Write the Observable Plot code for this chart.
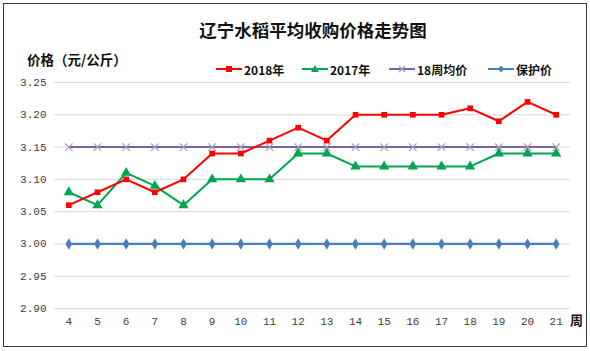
<!DOCTYPE html>
<html>
<head>
<meta charset="utf-8">
<script src="https://cdn.jsdelivr.net/npm/d3@7"></script>
<script src="https://cdn.jsdelivr.net/npm/@observablehq/plot@0.6"></script>
<style>
  html, body { margin: 0; padding: 0; background: #fff; }
  #wrap { position: relative; width: 590px; height: 351px; overflow: hidden; font-family: "Noto Sans CJK SC", sans-serif; }
  #frame { position: absolute; left: 3px; top: 3px; width: 582px; height: 342px; border: 1px solid #3a3a3a; box-sizing: content-box; pointer-events: none; }
  #title { position: absolute; left: 0; width: 626px; top: 17px; text-align: center; font-size: 17.5px; font-weight: bold; color: #111; }
  #ylab { position: absolute; left: 27px; top: 49px; font-size: 13.5px; font-weight: bold; color: #111; }
  #xlab { position: absolute; left: 570px; top: 310px; font-size: 13px; font-weight: bold; color: #111; }
  #legend { position: absolute; top: 60px; left: 0; height: 18px; }
  .li { position: absolute; top: 0; display: flex; align-items: center; font-size: 12px; font-weight: bold; color: #111; white-space: nowrap; }
  .li svg { margin-right: 2px; }
  #chart { position: absolute; left: 0; top: 0; }
</style>
</head>
<body>
<div id="wrap">
  <div id="chart"></div>
  <div id="title">辽宁水稻平均收购价格走势图</div>
  <div id="ylab">价格（元/公斤）</div>
  <div id="xlab">周</div>
  <div id="legend"></div>
  <div id="frame"></div>
</div>
<script>
const weeks = [4,5,6,7,8,9,10,11,12,13,14,15,16,17,18,19,20,21];
const price2018 = [3.06,3.08,3.10,3.08,3.10,3.14,3.14,3.16,3.18,3.16,3.20,3.20,3.20,3.20,3.21,3.19,3.22,3.20];
const price2017 = [3.08,3.06,3.11,3.09,3.06,3.10,3.10,3.10,3.14,3.14,3.12,3.12,3.12,3.12,3.12,3.14,3.14,3.14];
const avg18 = [3.15,3.15,3.15,3.15,3.15,3.15,3.15,3.15,3.15,3.15,3.15,3.15,3.15,3.15,3.15,3.15,3.15,3.15];
const protect = [3.00,3.00,3.00,3.00,3.00,3.00,3.00,3.00,3.00,3.00,3.00,3.00,3.00,3.00,3.00,3.00,3.00,3.00];
const seriesNames = ["2018年","2017年","18周均价","保护价"];
const yTicks = [2.90,2.95,3.00,3.05,3.10,3.15,3.20,3.25];

const toRows = (vals) => weeks.map((w,i) => ({week: w, value: vals[i]}));
const r2018 = toRows(price2018), r2017 = toRows(price2017), rAvg = toRows(avg18), rProt = toRows(protect);

const tickFont = {fontFamily: "'Liberation Mono', 'DejaVu Sans Mono', monospace", fontSize: 11};

const chart = Plot.plot({
  width: 590, height: 351,
  marginTop: 82, marginBottom: 43, marginLeft: 54, marginRight: 20,
  x: {type: "point", domain: weeks, padding: 0.5, round: false},
  y: {domain: [2.90, 3.25]},
  style: {background: "transparent"},
  marks: [
    Plot.gridY(yTicks, {stroke: "#d9d9d9", strokeOpacity: 1, strokeWidth: 1}),
    Plot.axisY(yTicks, {tickSize: 0, tickPadding: 8, tickFormat: d3.format(".2f"), fill: "#404040", label: null, ...tickFont}),
    Plot.axisX(weeks, {tickSize: 0, tickPadding: 9, fill: "#404040", label: null, ...tickFont}),
    Plot.line(rProt, {x: "week", y: "value", stroke: "#4a7ebb", strokeWidth: 2.25}),
    Plot.dot(rProt, {x: "week", y: "value", symbol: "diamond", r: 3.5, fill: "#4a7ebb"}),
    Plot.line(rAvg, {x: "week", y: "value", stroke: "#7c62a0", strokeWidth: 2}),
    Plot.dot(rAvg, {x: "week", y: "value", symbol: "times", r: 3.5, stroke: "#a898c8", strokeWidth: 1.2}),
    Plot.line(r2017, {x: "week", y: "value", stroke: "#00a550", strokeWidth: 2}),
    Plot.dot(r2017, {x: "week", y: "value", symbol: "triangle", r: 3.8, fill: "#00a550"}),
    Plot.line(r2018, {x: "week", y: "value", stroke: "#ff0000", strokeWidth: 2}),
    Plot.dot(r2018, {x: "week", y: "value", symbol: "square", r: 3.2, fill: "#ff0000"})
  ]
});
document.getElementById("chart").appendChild(chart);

// legend
const legendSpec = [
  {name: seriesNames[0], color: "#ff0000", sym: "square", left: 216},
  {name: seriesNames[1], color: "#00a550", sym: "triangle", left: 302},
  {name: seriesNames[2], color: "#7c62a0", sym: "times", left: 389},
  {name: seriesNames[3], color: "#4a7ebb", sym: "diamond", left: 488}
];
const lg = document.getElementById("legend");
for (const s of legendSpec) {
  const div = document.createElement("div");
  div.className = "li";
  div.style.left = s.left + "px";
  let marker = "";
  if (s.sym === "square") marker = `<rect x="10" y="6" width="6" height="6" fill="${s.color}"/>`;
  if (s.sym === "triangle") marker = `<path d="M13,5 L17,12 L9,12 Z" fill="${s.color}"/>`;
  if (s.sym === "times") marker = `<path d="M10,6 L16,12 M16,6 L10,12" stroke="#a898c8" stroke-width="1.2"/>`;
  if (s.sym === "diamond") marker = `<path d="M13,5.5 L16,9 L13,12.5 L10,9 Z" fill="${s.color}"/>`;
  div.innerHTML = `<svg width="26" height="18"><line x1="0" y1="9" x2="26" y2="9" stroke="${s.color}" stroke-width="2"/>${marker}</svg><span>${s.name}</span>`;
  lg.appendChild(div);
}
</script>
</body>
</html>
